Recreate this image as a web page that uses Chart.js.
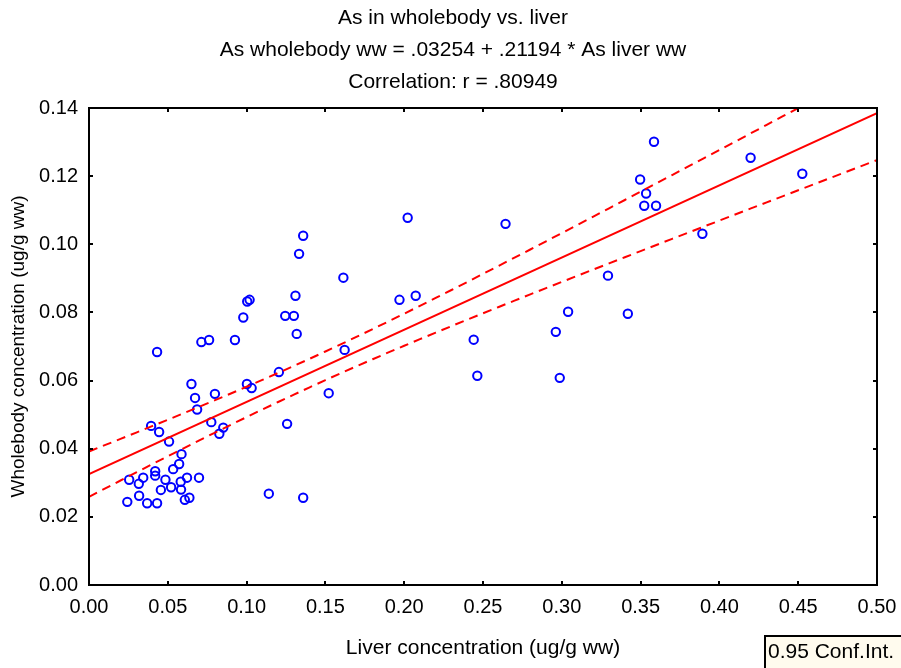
<!DOCTYPE html>
<html>
<head>
<meta charset="utf-8">
<script src="https://cdn.jsdelivr.net/npm/chart.js@4.4.1/dist/chart.umd.min.js"></script>
<style>
  body { margin: 0; background: #fff; }
</style>
</head>
<body>
<canvas id="asChart" width="901" height="668"></canvas>
<script>
// As liver concentration (ug/g ww)
const liverX = [
  0.0432, 0.0713, 0.0762, 0.0926, 0.1318, 0.1622, 0.0650, 0.0673, 0.0799, 0.1002,
  0.1032, 0.1205, 0.1521, 0.0686, 0.0394, 0.0445, 0.0508, 0.0776, 0.0852, 0.0827,
  0.1257, 0.0587, 0.0572, 0.0534, 0.0420, 0.0420, 0.0344, 0.0255, 0.0316, 0.0485,
  0.0622, 0.0698, 0.0582, 0.0456, 0.0521, 0.0584, 0.0318, 0.0243, 0.0369, 0.0432,
  0.0608, 0.0637, 0.1141, 0.1359, 0.0979, 0.1245, 0.1300, 0.1004, 0.1019, 0.1310,
  0.1614, 0.1333, 0.1359, 0.2022, 0.2643, 0.1970, 0.2073, 0.2441, 0.2464, 0.2962,
  0.3040, 0.2987, 0.3293, 0.3419, 0.3585, 0.3497, 0.3535, 0.3523, 0.3598, 0.3892,
  0.4198, 0.4526
];
// As wholebody concentration (ug/g ww)
const wholebodyY = [
  0.0684, 0.0713, 0.0719, 0.0719, 0.0737, 0.0690, 0.0590, 0.0549, 0.0561, 0.0590,
  0.0578, 0.0625, 0.0563, 0.0515, 0.0467, 0.0449, 0.0421, 0.0478, 0.0462, 0.0444,
  0.0473, 0.0384, 0.0355, 0.0340, 0.0334, 0.0321, 0.0315, 0.0309, 0.0297, 0.0309,
  0.0315, 0.0315, 0.0303, 0.0279, 0.0287, 0.0280, 0.0262, 0.0244, 0.0240, 0.0240,
  0.0250, 0.0256, 0.0268, 0.0256, 0.0785, 0.0790, 0.0790, 0.0832, 0.0837, 0.0849,
  0.0902, 0.0972, 0.1025, 0.1078, 0.1060, 0.0837, 0.0849, 0.0720, 0.0614, 0.0743,
  0.0802, 0.0608, 0.0908, 0.0796, 0.1301, 0.1190, 0.1149, 0.1113, 0.1113, 0.1031,
  0.1254, 0.1207
];

// fit from the chart title
const intercept = 0.03254;
const slope = 0.21194;
const titleLines = [
  'As in wholebody vs. liver',
  'As wholebody ww = .03254 + .21194 * As liver ww',
  'Correlation: r = .80949'
];
const xTitle = 'Liver concentration (ug/g ww)';
const yTitle = 'Wholebody concentration (ug/g ww)';
const legendText = '0.95 Conf.Int.';

const FONT = '"Liberation Sans", Arial, sans-serif';

const points = liverX.map((x, i) => ({ x: x, y: wholebodyY[i] }));
const fitLine = [0, 0.5].map(x => ({ x: x, y: intercept + slope * x }));

// 95% confidence band of the regression line
const n = liverX.length;
const xMean = liverX.reduce((a, b) => a + b, 0) / n;
const sxx = liverX.reduce((a, x) => a + (x - xMean) * (x - xMean), 0);
const sse = points.reduce((a, p) => {
  const r = p.y - (intercept + slope * p.x);
  return a + r * r;
}, 0);
const sErr = Math.sqrt(sse / (n - 2));
const tCrit = 1.994;
const upperBand = [];
const lowerBand = [];
for (let k = 0; k <= 50; k++) {
  const x = k / 100;
  const hw = tCrit * sErr * Math.sqrt(1 / n + (x - xMean) * (x - xMean) / sxx);
  upperBand.push({ x: x, y: intercept + slope * x + hw });
  lowerBand.push({ x: x, y: intercept + slope * x - hw });
}

const frameAndText = {
  id: 'frameAndText',
  afterDraw(chart) {
    const ctx = chart.ctx;
    const a = chart.chartArea;
    const xs = chart.scales.x;
    const ys = chart.scales.y;
    ctx.save();
    ctx.strokeStyle = '#000';
    ctx.lineWidth = 2;
    ctx.strokeRect(a.left, a.top, a.right - a.left, a.bottom - a.top);
    ctx.beginPath();
    xs.ticks.forEach(t => {
      const px = Math.round(xs.getPixelForValue(t.value));
      ctx.moveTo(px, a.bottom); ctx.lineTo(px, a.bottom - 4);
      ctx.moveTo(px, a.top); ctx.lineTo(px, a.top + 4);
    });
    ys.ticks.forEach(t => {
      const py = Math.round(ys.getPixelForValue(t.value));
      ctx.moveTo(a.left, py); ctx.lineTo(a.left + 4, py);
      ctx.moveTo(a.right, py); ctx.lineTo(a.right - 4, py);
    });
    ctx.stroke();

    ctx.fillStyle = '#000';
    ctx.textAlign = 'center';
    ctx.textBaseline = 'alphabetic';
    ctx.font = '21px ' + FONT;
    ctx.fillText(titleLines[0], 453, 24);
    ctx.fillText(titleLines[1], 453, 56);
    ctx.fillText(titleLines[2], 453, 88);

    ctx.textBaseline = 'middle';
    ctx.font = '21px ' + FONT;
    ctx.fillText(xTitle, (a.left + a.right) / 2, 648);
    ctx.font = '19px ' + FONT;
    ctx.save();
    ctx.translate(19, (a.top + a.bottom) / 2);
    ctx.rotate(-Math.PI / 2);
    ctx.fillText(yTitle, 0, 0);
    ctx.restore();

    // conf. int. box
    ctx.fillStyle = '#fffbee';
    ctx.fillRect(765, 636, 140, 36);
    ctx.lineWidth = 2;
    ctx.strokeRect(765, 636, 140, 36);
    ctx.fillStyle = '#000';
    ctx.textAlign = 'left';
    ctx.font = '21px ' + FONT;
    ctx.fillText(legendText, 768, 652);
    ctx.restore();
  }
};

new Chart(document.getElementById('asChart'), {
  type: 'scatter',
  data: {
    datasets: [
      {
        label: 'upper',
        type: 'line',
        data: upperBand,
        borderColor: '#ff0000',
        borderWidth: 2,
        borderDash: [9, 6],
        pointRadius: 0,
        fill: false
      },
      {
        label: 'lower',
        type: 'line',
        data: lowerBand,
        borderColor: '#ff0000',
        borderWidth: 2,
        borderDash: [9, 6],
        pointRadius: 0,
        fill: false
      },
      {
        label: 'fit',
        type: 'line',
        data: fitLine,
        borderColor: '#ff0000',
        borderWidth: 2,
        pointRadius: 0,
        fill: false
      },
      {
        label: 'As',
        data: points,
        showLine: false,
        pointRadius: 4.2,
        pointBorderWidth: 2,
        pointBorderColor: '#0000ff',
        pointBackgroundColor: 'rgba(0,0,0,0)'
      }
    ]
  },
  options: {
    responsive: false,
    animation: false,
    layout: { padding: { top: 108, right: 24, left: 0, bottom: 0 } },
    plugins: {
      legend: { display: false },
      tooltip: { enabled: false },
      title: { display: false }
    },
    scales: {
      x: {
        type: 'linear',
        min: 0,
        max: 0.5,
        grid: { display: false },
        border: { display: false },
        ticks: {
          stepSize: 0.05,
          color: '#000',
          padding: 2,
          maxRotation: 0,
          font: { family: FONT, size: 20 },
          callback: v => v.toFixed(2)
        },
        afterFit: s => { s.height = 83; s.paddingLeft = 0; s.paddingRight = 0; }
      },
      y: {
        min: 0,
        max: 0.14,
        grid: { display: false },
        border: { display: false },
        ticks: {
          stepSize: 0.02,
          color: '#000',
          padding: 3,
          font: { family: FONT, size: 20 },
          callback: v => v.toFixed(2)
        },
        afterFit: s => { s.width = 89; s.paddingTop = 0; s.paddingBottom = 0; }
      }
    }
  },
  plugins: [frameAndText]
});
</script>
</body>
</html>
